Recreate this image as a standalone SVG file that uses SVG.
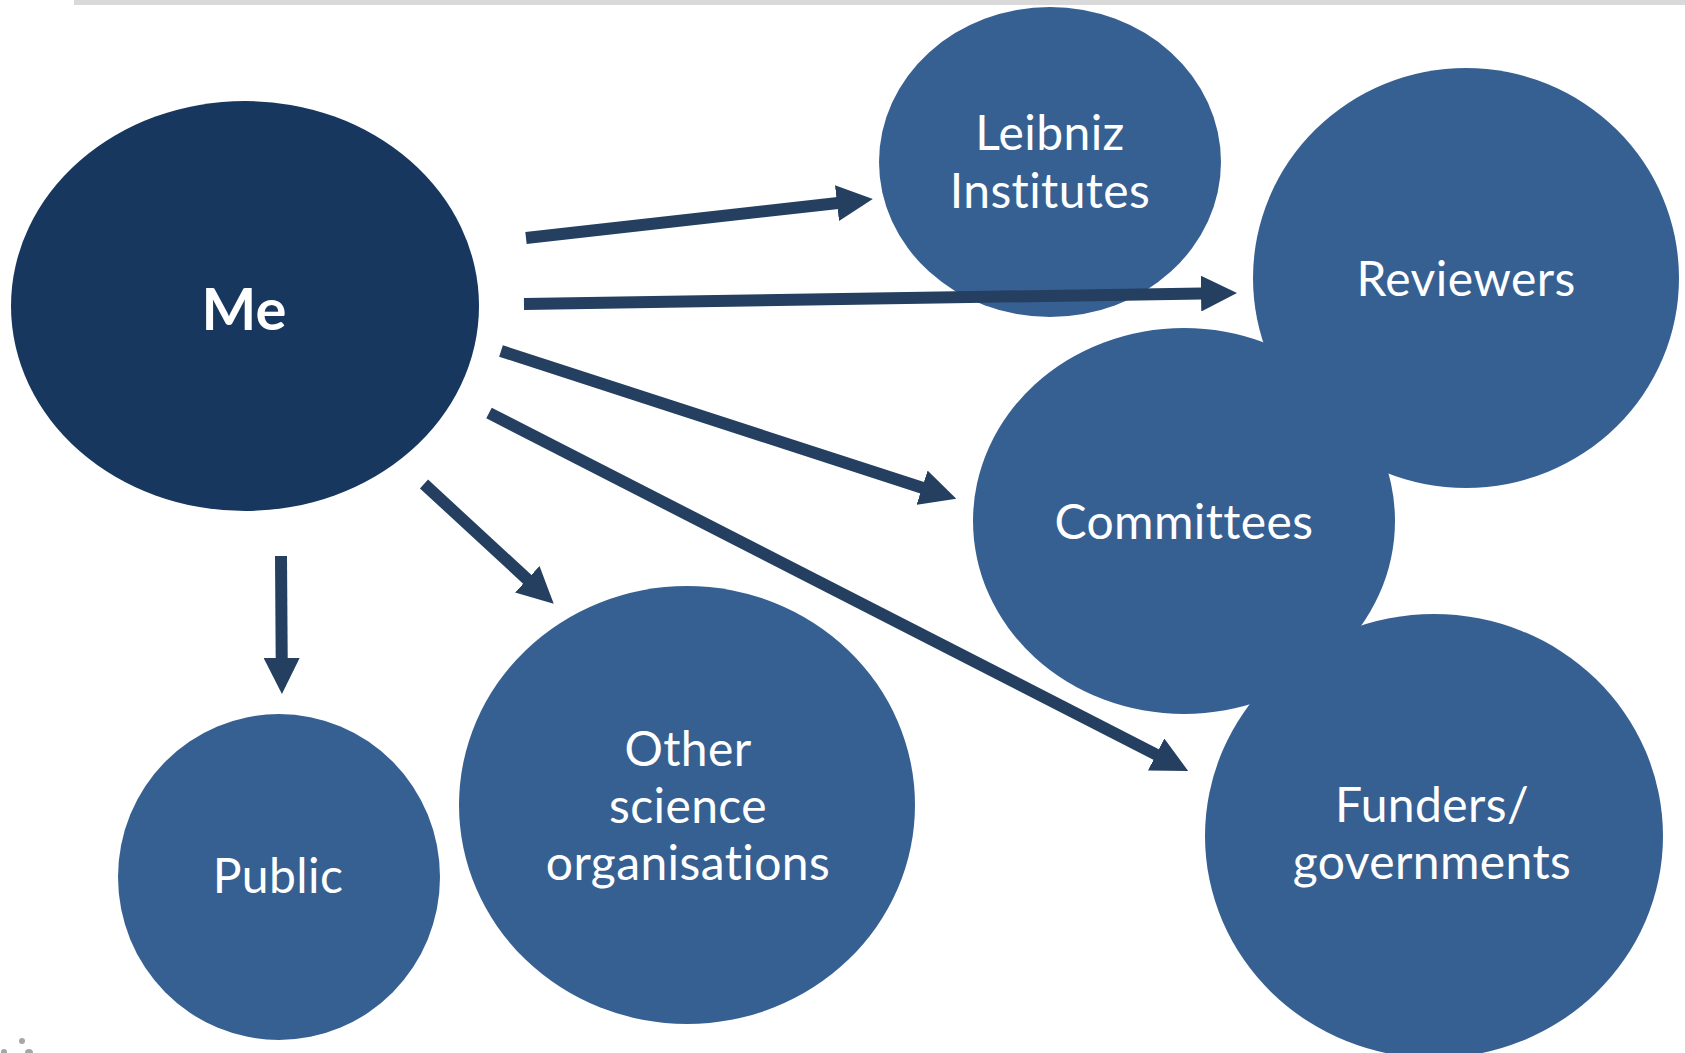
<svg xmlns="http://www.w3.org/2000/svg" width="1685" height="1053" viewBox="0 0 1685 1053">
  <style>
    .node { fill: #376092; }
    .me { fill: #17375E; }
    .label { fill: #ffffff; font-family: Lato, "Open Sans", "Liberation Sans", sans-serif; font-size: 48px; letter-spacing: 0.4px; text-anchor: middle; font-variant-ligatures: none; }
    .label-me { font-weight: bold; font-size: 58px; letter-spacing: 0; }
    .arrow { stroke: #243F60; stroke-width: 12; fill: none; marker-end: url(#head); }
  </style>
  <defs>
    <marker id="head" viewBox="0 0 36 36" markerUnits="userSpaceOnUse" markerWidth="36" markerHeight="36" refX="1" refY="18" orient="auto">
      <path d="M0,0 L36,18 L0,36 Z" fill="#243F60"/>
    </marker>
  </defs>

  <rect width="1685" height="1053" fill="#ffffff"/>
  <!-- header rule -->
  <rect x="74" y="0" width="1611" height="5" fill="#d9d9d9"/>
  <!-- footer logo fragment -->
  <g fill="#a6a6a6">
    <circle cx="22" cy="1041" r="3"/>
    <circle cx="4" cy="1052" r="3"/>
    <circle cx="29" cy="1053" r="4"/>
  </g>

  <g id="node-reviewers">
    <ellipse class="node" cx="1466" cy="278" rx="213" ry="210"/>
  </g>
  <g id="node-committees">
    <ellipse class="node" cx="1184" cy="521" rx="211" ry="193"/>
  </g>
  <g id="node-funders">
    <ellipse class="node" cx="1434" cy="836" rx="229" ry="222"/>
  </g>
  <g id="node-leibniz">
    <ellipse class="node" cx="1050" cy="162" rx="171" ry="155"/>
  </g>
  <g id="node-other">
    <ellipse class="node" cx="687" cy="805" rx="228" ry="219"/>
  </g>
  <g id="node-public">
    <ellipse class="node" cx="279" cy="877" rx="161" ry="163"/>
  </g>
  <g id="node-me">
    <ellipse class="me" cx="245" cy="306" rx="234" ry="205"/>
  </g>

  <g id="connectors">
    <line class="arrow" x1="526" y1="238" x2="838" y2="203"/>
    <line class="arrow" x1="524" y1="304" x2="1202" y2="293.5"/>
    <line class="arrow" x1="501" y1="351" x2="923" y2="488"/>
    <line class="arrow" x1="489" y1="413" x2="1157" y2="755"/>
    <line class="arrow" x1="424" y1="484" x2="528" y2="580"/>
    <line class="arrow" x1="281" y1="556" x2="281.7" y2="659"/>
  </g>

  <g id="labels">
    <text class="label label-me" x="244" y="330">Me</text>
    <text class="label" x="1050" y="150">Leibniz</text>
    <text class="label" x="1050" y="208">Institutes</text>
    <text class="label" x="1466" y="296">Reviewers</text>
    <text class="label" x="1184" y="539">Committees</text>
    <text class="label" x="688" y="766">Other</text>
    <text class="label" x="688" y="823">science</text>
    <text class="label" x="688" y="880">organisations</text>
    <text class="label" x="278" y="893">Public</text>
    <text class="label" x="1432" y="822">Funders/</text>
    <text class="label" x="1432" y="879">governments</text>
  </g>
</svg>
